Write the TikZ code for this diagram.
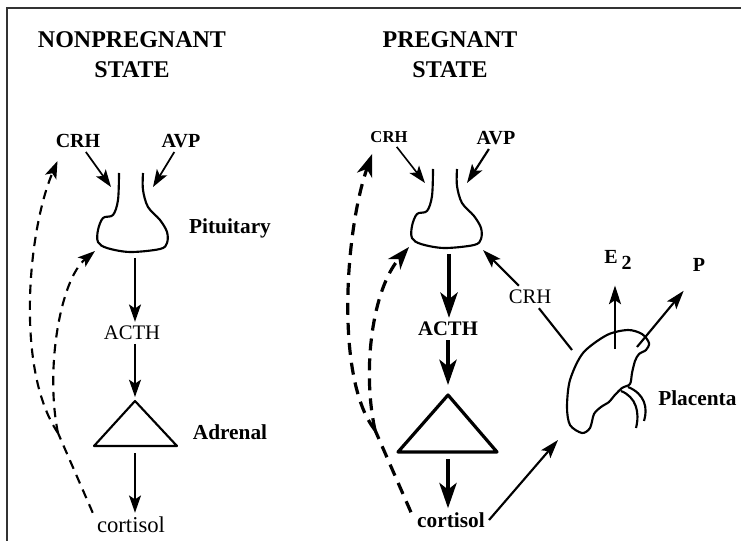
\documentclass[tikz,border=0pt]{standalone}
\usepackage{fontspec}
\setmainfont{Liberation Serif}
\usetikzlibrary{arrows.meta, positioning, calc}

\tikzset{
  pituitary/.pic={
    \draw[gland] plot[smooth, tension=0.55] coordinates {(-12,0) (-13,27) (-18,42) (-28,45) (-33,57) (-33,69) (-24,75) (-1,79) (29,76) (36,70) (36,59) (29,47) (17,34) (12,17) (12,0)};
    \coordinate (-crh) at (-20,14);
    \coordinate (-avp) at (22,14);
    \coordinate (-out) at (4,85);
    \coordinate (-fb) at (-36,78);
    \coordinate (-aux) at (38,81);
  }
}

\begin{document}
\begin{tikzpicture}[x=0.75pt, y=-0.75pt,
  head/.style={font=\fontsize{18}{22.5}\selectfont\bfseries, align=center, inner sep=0pt},
  lbl/.style={font=\fontsize{15}{18}\selectfont\bfseries, inner sep=3pt},
  hrm/.style={font=\fontsize{15.5}{18}\selectfont, inner sep=3pt},
  organ/.style={font=\fontsize{16}{19}\selectfont\bfseries, inner sep=0pt},
  gland/.style={line width=1.6pt, line join=round},
  arr/.style={-{Stealth[length=13pt, width=9pt, inset=3pt]}, line width=1.3pt},
  marr/.style={-{Stealth[length=14pt, width=9pt, inset=3pt]}, line width=1.6pt},
  barr/.style={-{Stealth[length=19pt, width=13pt, inset=5pt]}, line width=2.6pt},
  fbl/.style={dash pattern=on 7pt off 5pt, line width=1.6pt},
  fb/.style={fbl, -{Stealth[length=13pt, width=9pt, inset=3pt]}},
  bfbl/.style={dash pattern=on 9pt off 6pt, line width=2.4pt},
  bfb/.style={bfbl, -{Stealth[length=17pt, width=12pt, inset=5pt]}},
]
\useasboundingbox (0,0) rectangle (741,541);
\draw[line width=2pt, black!80] (7,541) -- (7,8) -- (741,8);

% nonpregnant state
\node[head] (npL) at (132,55) {NONPREGNANT\\STATE};
\node[lbl] (crhL) at (78,141) {CRH};
\node[lbl] (avpL) at (181,141) {AVP};
\pic (pitL) at (131,173) {pituitary};
\node[organ] (pitLbl) at (230,228) {Pituitary};
\node[hrm] (acthL) at (132,333) {ACTH};
\coordinate (adrL) at (135,401);
\draw[gland] (adrL) -- (94,446) -- (177,446) -- cycle;
\node[organ] (adrLbl) at (230,432) {Adrenal};
\node[font=\fontsize{17}{20}\selectfont, inner sep=3pt] (cortL) at (131,525) {cortisol};

\draw[arr] (crhL) -- (pitL-crh);
\draw[arr] (avpL) -- (pitL-avp);
\draw[arr] (pitL-out) -- (pitL-out |- acthL.north);
\draw[arr] (acthL.north -| adrL) ++(0,22) -- ($(adrL)+(0,-4)$);
\draw[arr] ($(adrL)+(0,52)$) -- (adrL |- cortL.north);

\coordinate (vL) at (58,433);
\draw[fbl] (cortL.north west) -- (vL);
\draw[fb] (vL) .. controls (15,370) and (28,230) .. ($(crhL.south west)+(6,9)$);
\draw[fb] (vL) .. controls (45,370) and (60,280) .. (pitL-fb);

% pregnant state
\node[head] (pgR) at (450,55) {PREGNANT\\STATE};
\node[font=\fontsize{12.5}{15}\selectfont\bfseries, inner sep=3pt] (crhR) at (389,137) {CRH};
\node[lbl] (avpR) at (496,138) {AVP};
\pic (pitR) at (445,169) {pituitary};
\node[font=\fontsize{15.5}{18}\selectfont\bfseries, inner sep=3pt] (acthR) at (448,329) {ACTH};
\coordinate (adrR) at (448,395);
\draw[gland, line width=2.4pt] (adrR) -- (398,452) -- (497,452) -- cycle;
\node[font=\fontsize{16}{19}\selectfont\bfseries, inner sep=3pt] (cortR) at (451,520) {cortisol};

\draw[arr, line width=1.2pt] (crhR) -- (pitR-crh);
\draw[marr] (avpR) -- (pitR-avp);
\draw[barr] (pitR-out) -- (pitR-out |- acthR.north);
\draw[barr] (acthR.south -| adrR) -- ($(adrR)+(0,-10)$);
\draw[barr] ($(adrR)+(0,64)$) -- (adrR |- cortR.north);

\coordinate (vR) at (375,430);
\draw[bfbl] ($(cortR.north west)+(-2,4)$) -- (vR);
\draw[bfb] (vR) .. controls (335,380) and (345,230) .. ($(crhR.south west)+(6,7)$);
\draw[bfb] (vR) .. controls (362,370) and (372,290) .. (pitR-fb);

% placenta
\draw[gland] plot[smooth cycle, tension=0.5] coordinates {(649,343) (642,334) (628,330) (607,335) (583,353) (570,380) (567,407) (570,425) (582,433) (590,428) (594,414) (601,407) (609,402) (614,396) (622,388) (630,384) (632,373) (635,361) (639,354) (646,350)};
\draw[gland] (621,391) .. controls (636,397) and (640,412) .. (636,428);
\draw[gland] (628,387) .. controls (645,394) and (648,408) .. (644,421);
\node[organ, anchor=west] (plcLbl) at (658,398) {Placenta};
\coordinate (plcCrh) at (572,350);
\coordinate (plcE) at (615,349);
\coordinate (plcP) at (637,347);
\coordinate (plcIn) at (558,440);
\node[font=\fontsize{15}{18}\selectfont\bfseries, inner sep=3pt] (e2) at (618,260) {E\hspace{3pt}\raisebox{-4pt}{2}};
\node[lbl] (pR) at (699,265) {P};
\node[hrm] (crhP) at (530,297) {CRH};

\draw[marr] (plcE) -- ($(plcE |- e2.south)+(0,12)$);
\draw[marr] (plcP) -- ($(pR.south west)+(-5,15)$);
\draw[line width=1.6pt] (plcCrh) -- (crhP);
\draw[marr] (crhP) -- (pitR-aux);
\draw[marr] (cortR.east) -- (plcIn);
\end{tikzpicture}
\end{document}
